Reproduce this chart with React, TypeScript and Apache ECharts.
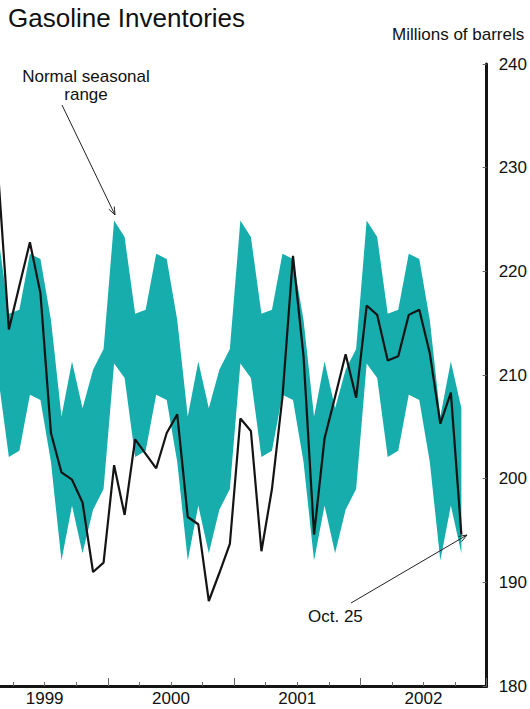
import React, { useEffect, useRef } from 'react';
import * as echarts from 'echarts';

// Monthly observations; first point ~ mid Feb 1999 (month index from Jan 1 1999)
const FIRST_MONTH = 1.6;

// Gasoline inventories, millions of barrels
const inventories = [
  229.2,
  214.4, 218.6, 222.8, 217.9, 204.4, 200.6, 199.9, 197.7, 191.0, 191.9, 201.3, 196.5,
  203.8, 202.4, 201.0, 204.4, 206.2, 196.3, 195.6, 188.2, 190.9, 193.7, 205.8, 204.6,
  193.0, 199.0, 207.9, 221.5, 211.8, 194.6, 203.9, 207.9, 212.0, 207.8, 216.7, 215.8,
  211.4, 211.8, 215.8, 216.3, 212.1, 205.3, 208.3, 194.6,
];

// Normal seasonal range, upper bound
const normalHigh = [
  223.3,
  215.9, 216.3, 221.7, 221.2, 215.3, 206.0, 211.3, 206.8, 210.5, 212.5, 224.9, 223.3,
  215.9, 216.3, 221.7, 221.2, 215.3, 206.0, 211.3, 206.8, 210.5, 212.5, 224.9, 223.3,
  215.9, 216.3, 221.7, 221.2, 215.3, 206.0, 211.3, 206.8, 210.5, 212.5, 224.9, 223.3,
  215.9, 216.3, 221.7, 221.2, 215.3, 206.0, 211.3, 206.8,
];

// Normal seasonal range, lower bound
const normalLow = [
  209.7,
  202.1, 202.7, 208.1, 207.6, 201.6, 192.1, 197.4, 192.8, 197.0, 199.0, 211.1, 209.7,
  202.1, 202.7, 208.1, 207.6, 201.6, 192.1, 197.4, 192.8, 197.0, 199.0, 211.1, 209.7,
  202.1, 202.7, 208.1, 207.6, 201.6, 192.1, 197.4, 192.8, 197.0, 199.0, 211.1, 209.7,
  202.1, 202.7, 208.1, 207.6, 201.6, 192.1, 197.4, 192.8,
];

const yearLabels = ['1999', '2000', '2001', '2002'];
const yearLabelMonths = [6, 18, 30, 42];

const Y_MIN = 180;
const Y_MAX = 240;
const Y_STEP = 10;

const OX = 40; // chart div is shifted left by this many px
const FONT = '"Liberation Sans", Arial, Helvetica, sans-serif';
const TEAL = '#17adad';
const INK = '#141414';

function arrow(x1: number, y1: number, x2: number, y2: number) {
  const dx = x2 - x1;
  const dy = y2 - y1;
  const len = Math.sqrt(dx * dx + dy * dy);
  const ux = dx / len;
  const uy = dy / len;
  const back = 8;
  const half = 3;
  const bx = x2 - ux * back;
  const by = y2 - uy * back;
  const px = -uy * half;
  const py = ux * half;
  return [
    {
      type: 'line',
      shape: { x1: x1 + OX, y1, x2: x2 + OX, y2 },
      style: { stroke: '#222', lineWidth: 1 },
      z: 20,
    },
    {
      type: 'polyline',
      shape: {
        points: [
          [bx + px + OX, by + py],
          [x2 + OX, y2],
          [bx - px + OX, by - py],
        ],
      },
      style: { stroke: '#222', lineWidth: 1, fill: 'none' },
      z: 20,
    },
  ];
}

function text(t: string, x: number, y: number, size: number, align: string = 'left') {
  return {
    type: 'text',
    x: x + OX,
    y,
    z: 20,
    style: {
      text: t,
      fontSize: size,
      fontFamily: FONT,
      fill: '#111',
      align,
      textAlign: align,
      verticalAlign: 'middle',
      textVerticalAlign: 'middle',
    },
  };
}

export default function App() {
  const ref = useRef<HTMLDivElement>(null);

  useEffect(() => {
    if (!ref.current) return;
    const chart = echarts.init(ref.current, null, { renderer: 'svg' });
    const months = inventories.map((_, i) => FIRST_MONTH + i);

    const option: any = {
      animation: false,
      grid: { left: OX - 18.5, right: 36.8, top: 64, bottom: 23, containLabel: false },
      xAxis: [
        {
          type: 'value',
          min: 0,
          max: 48,
          interval: 3,
          position: 'bottom',
          axisLine: { show: true, onZero: false, lineStyle: { color: INK, width: 3 } },
          axisTick: { show: true, inside: true, length: 4, lineStyle: { color: '#666', width: 1 } },
          axisLabel: {
            show: true,
            color: '#111',
            fontSize: 17,
            fontFamily: FONT,
            margin: 4,
            hideOverlap: false,
            formatter: (v: number) => {
              const idx = yearLabelMonths.indexOf(Math.round(v));
              return idx >= 0 ? yearLabels[idx] : '';
            },
          },
          splitLine: { show: false },
        },
        {
          type: 'value',
          min: 0,
          max: 48,
          interval: 12,
          position: 'bottom',
          axisLine: { show: false, onZero: false },
          axisTick: { show: true, inside: true, length: 8, lineStyle: { color: '#666', width: 1 } },
          axisLabel: { show: false },
          splitLine: { show: false },
        },
      ],
      yAxis: {
        type: 'value',
        position: 'right',
        min: Y_MIN,
        max: Y_MAX,
        interval: Y_STEP,
        axisLine: { show: true, onZero: false, lineStyle: { color: INK, width: 3 } },
        axisTick: { show: true, inside: true, length: 4, lineStyle: { color: '#666', width: 1 } },
        axisLabel: { color: '#111', fontSize: 17, fontFamily: FONT, margin: 12 },
        splitLine: { show: false },
      },
      series: [
        {
          type: 'custom',
          xAxisIndex: 0,
          yAxisIndex: 0,
          silent: true,
          z: 1,
          data: months.map((m, i) => [m, normalHigh[i], normalLow[i]]),
          encode: { x: 0, y: [1, 2] },
          renderItem: (params: any, api: any) => {
            if (params.dataIndex !== 0) return null;
            const top = months.map((m, i) => api.coord([m, normalHigh[i]]));
            const bottom = months.map((m, i) => api.coord([m, normalLow[i]])).reverse();
            return {
              type: 'polygon',
              shape: { points: top.concat(bottom) },
              style: { fill: TEAL, stroke: 'none' },
            };
          },
        },
        {
          type: 'line',
          xAxisIndex: 0,
          yAxisIndex: 0,
          z: 3,
          symbol: 'none',
          showSymbol: false,
          data: months.map((m, i) => [m, inventories[i]]),
          lineStyle: { color: INK, width: 2.2 },
        },
      ],
      graphic: [
        text('Gasoline Inventories', 8, 18, 26),
        text('Millions of barrels', 392, 34, 17),
        text('Normal seasonal', 86, 76, 17, 'center'),
        text('range', 86, 94, 17, 'center'),
        ...arrow(62, 105, 115, 215),
        text('Oct. 25', 308, 616, 17),
        ...arrow(351, 603, 467, 535),
      ],
    };

    chart.setOption(option);
    return () => chart.dispose();
  }, []);

  return (
    <div
      ref={ref}
      style={{ position: 'absolute', left: -OX, top: 0, width: 530 + OX, height: 709 }}
    />
  );
}
